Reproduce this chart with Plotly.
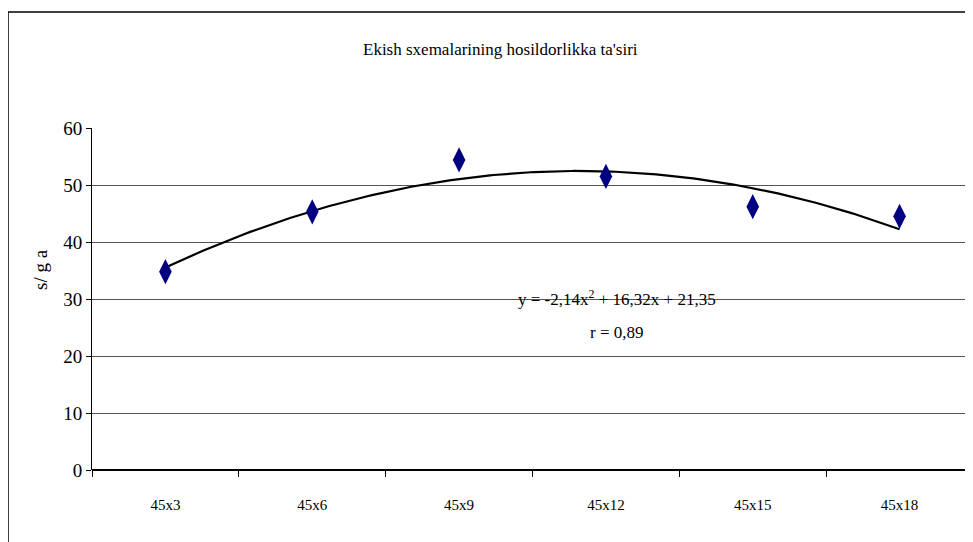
import numpy as np
import plotly.graph_objects as go

categories = ["45x3", "45x6", "45x9", "45x12", "45x15", "45x18"]
yield_values = [34.8, 45.3, 54.4, 51.5, 46.2, 44.5]
trend_coeffs = [-2.14, 16.32, 21.35]  # y = a x^2 + b x + c (as displayed)
y_ticks = [0, 10, 20, 30, 40, 50, 60]

FONT = "Liberation Serif"
OFF = 8  # page body margin
W, H = 973 - OFF, 542 - OFF
L, T = 92 - OFF, 128 - OFF
R = 0
B = H - T - 342
pw, ph = W - L - R, H - T - B

def px_x(px):
    return (px - OFF - L) / pw

def px_y(py):
    return (H - B - (py - OFF)) / ph

xpos = list(range(1, len(categories) + 1))
xt = np.linspace(1, len(categories), 200)
yt = np.polyval(trend_coeffs, xt)

fig = go.Figure()
fig.add_trace(go.Scatter(x=xt, y=yt, mode="lines",
                         line=dict(color="black", width=2.2), showlegend=False,
                         hoverinfo="skip"))
fig.add_trace(go.Scatter(x=xpos, y=yield_values, mode="markers",
                         marker=dict(symbol="diamond-tall", size=18, color="#000080",
                                     line=dict(width=0)),
                         showlegend=False))

fig.update_layout(
    width=W, height=H,
    margin=dict(l=L, r=R, t=T, b=B, pad=0),
    paper_bgcolor="white", plot_bgcolor="white",
    font=dict(family=FONT, color="black", size=16),
    xaxis=dict(range=[0.5, len(categories) + 0.5], tickmode="array",
               tickvals=xpos, ticktext=categories, ticks="", showgrid=False,
               zeroline=False, showline=False, tickfont=dict(size=15, family=FONT),
               ticklabelstandoff=24,
               minor=dict(tick0=0.5, dtick=1, ticks="outside", ticklen=6,
                          tickcolor="black", showgrid=False)),
    yaxis=dict(range=[0, 60], tickmode="array", tickvals=y_ticks,
               ticks="outside", ticklen=5, tickcolor="black",
               showline=True, linecolor="black", linewidth=1,
               showgrid=True, gridcolor="#555555", gridwidth=1,
               zeroline=True, zerolinecolor="black", zerolinewidth=1.5,
               tickfont=dict(size=19, family=FONT)),
    shapes=[
        dict(type="rect", xref="paper", yref="paper",
             x0=px_x(8), x1=px_x(990), y0=px_y(560), y1=px_y(12),
             line=dict(color="black", width=1.5), fillcolor="rgba(0,0,0,0)",
             layer="below"),
    ],
    annotations=[
        dict(text="Ekish sxemalarining hosildorlikka ta'siri", xref="paper", yref="paper",
             x=px_x(500), y=px_y(50), xanchor="center", yanchor="middle",
             showarrow=False, font=dict(size=17, family=FONT)),
        dict(text="s/ g a", xref="paper", yref="paper", x=px_x(40), y=px_y(270),
             xanchor="center", yanchor="middle",
             showarrow=False, textangle=-90, font=dict(size=19, family=FONT)),
        dict(text="y = -2,14x<sup>2</sup> + 16,32x + 21,35", xref="paper", yref="paper",
             x=px_x(617), y=px_y(298), xanchor="center", yanchor="middle",
             showarrow=False, font=dict(size=17, family=FONT)),
        dict(text="r = 0,89", xref="paper", yref="paper",
             x=px_x(617), y=px_y(332), xanchor="center", yanchor="middle",
             showarrow=False, font=dict(size=17, family=FONT)),
    ],
)

fig.write_html("out.html")
